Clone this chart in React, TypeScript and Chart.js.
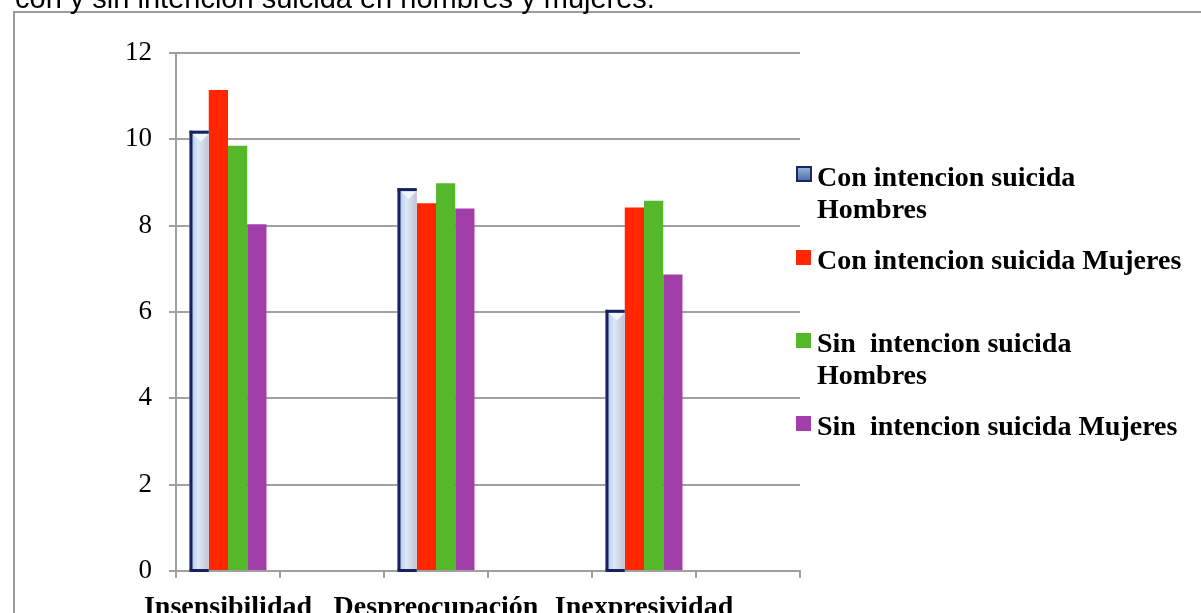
import React, { useEffect, useRef } from "react";
import { Chart, registerables } from "chart.js";

Chart.register(...registerables);

const captionText = "con y sin intencion suicida en hombres y mujeres.";
const categories = ["Insensibilidad", "", "Despreocupación", "", "Inexpresividad", ""];
const conHombres = [10.2, null, 8.87, null, 6.05, null];
const conMujeres = [11.14, null, 8.52, null, 8.42, null];
const sinHombres = [9.85, null, 8.98, null, 8.58, null];
const sinMujeres = [8.03, null, 8.4, null, 6.87, null];
const seriesNames: string[][] = [
  ["Con intencion suicida", "Hombres"],
  ["Con intencion suicida Mujeres"],
  ["Sin  intencion suicida", "Hombres"],
  ["Sin  intencion suicida Mujeres"],
];
const seriesColors = ["#c5d9f1", "#ff2600", "#55b72a", "#a23ea9"];
const yMin = 0;
const yMax = 12;
const yStep = 2;

const gridColor = "#a0a0a0";

const decorPlugin = {
  id: "decor",
  beforeDraw(chart: any) {
    const ctx = chart.ctx;
    ctx.save();
    ctx.fillStyle = "#ffffff";
    ctx.fillRect(0, 0, chart.width, chart.height);
    ctx.fillStyle = "#9c9c9c";
    ctx.fillRect(13, 11, chart.width - 13, 2);
    ctx.fillRect(13, 11, 2, chart.height - 11);
    ctx.fillStyle = "#000";
    ctx.font = "29px 'Liberation Sans', Arial, sans-serif";
    ctx.textBaseline = "alphabetic";
    ctx.textAlign = "left";
    ctx.fillText(captionText, 15, 8);
    ctx.restore();
  },
  afterDatasetDraw(chart: any, args: any) {
    if (args.index !== 0) return;
    const ctx = chart.ctx;
    const data = chart.data.datasets[0].data;
    ctx.save();
    args.meta.data.forEach((el: any, i: number) => {
      if (data[i] == null) return;
      const { x, y, base, width } = el.getProps(["x", "y", "base", "width"], true);
      if (!isFinite(y)) return;
      const l = x - width / 2;
      const r = x + width / 2;
      const g = ctx.createLinearGradient(l, 0, r, 0);
      g.addColorStop(0, "#a4c3ec");
      g.addColorStop(0.45, "#dbe8f8");
      g.addColorStop(1, "#c2c7d0");
      ctx.fillStyle = g;
      ctx.fillRect(l, y, r - l, base - y);
      ctx.fillStyle = "rgba(242,247,253,0.95)";
      ctx.beginPath();
      ctx.moveTo(l + 3, y + 3);
      ctx.lineTo(r, y + 3);
      ctx.lineTo((l + 3 + r) / 2, y + 11);
      ctx.closePath();
      ctx.fill();
      ctx.fillStyle = "#16215f";
      ctx.fillRect(l, y, 3, base - y);
      ctx.fillRect(l, y, r - l, 3);
      ctx.fillRect(l, base - 1, r - l, 3);
    });
    ctx.restore();
  },
  afterDraw(chart: any) {
    const ctx = chart.ctx;
    ctx.save();
    ctx.font = "bold 28px 'Liberation Serif', serif";
    ctx.textBaseline = "alphabetic";
    ctx.textAlign = "left";
    const boxX = 796;
    const textX = 817;
    const firstBaseline = 186;
    const itemStep = 83;
    const lineStep = 32;
    chart.data.datasets.forEach((ds: any, i: number) => {
      const bl = firstBaseline + i * itemStep;
      const bt = bl - 20;
      if (i === 0) {
        const g = ctx.createLinearGradient(0, bt, 0, bt + 16);
        g.addColorStop(0, "#9dbbe3");
        g.addColorStop(1, "#46679e");
        ctx.fillStyle = g;
        ctx.fillRect(boxX, bt, 16, 16);
        ctx.strokeStyle = "#1a2660";
        ctx.lineWidth = 2;
        ctx.strokeRect(boxX + 1, bt + 1, 14, 14);
      } else {
        ctx.fillStyle = ds.backgroundColor;
        ctx.fillRect(boxX, bt + 1, 15, 15);
      }
      ctx.fillStyle = "#000";
      const lines: string[] = ds.label;
      lines.forEach((ln, j) => ctx.fillText(ln, textX, bl + j * lineStep));
    });
    ctx.restore();
  },
};

export default function App() {
  const ref = useRef<HTMLCanvasElement>(null);
  useEffect(() => {
    const seriesData = [conHombres, conMujeres, sinHombres, sinMujeres];
    const chart = new Chart(ref.current as HTMLCanvasElement, {
      type: "bar",
      data: {
        labels: categories,
        datasets: seriesData.map((d, i) => ({
          label: seriesNames[i] as any,
          data: d as any,
          backgroundColor: seriesColors[i],
          borderWidth: 0,
          categoryPercentage: 0.74,
          barPercentage: 1,
        })),
      },
      options: {
        responsive: false,
        animation: false,
        devicePixelRatio: 1,
        layout: { padding: { top: 53, right: 401, bottom: 0, left: 0 } },
        plugins: {
          legend: { display: false },
          tooltip: { enabled: false },
          title: { display: false },
        },
        scales: {
          x: {
            offset: true,
            grid: {
              drawOnChartArea: false,
              drawTicks: true,
              tickLength: 7,
              color: gridColor,
              lineWidth: 2,
              offset: true,
            },
            border: { display: true, color: gridColor, width: 2 },
            ticks: {
              autoSkip: false,
              maxRotation: 0,
              minRotation: 0,
              padding: 13,
              color: "#000",
              font: { family: "'Liberation Serif', serif", size: 28, weight: "bold" },
            },
            afterFit: (s: any) => {
              s.height = 42;
            },
          },
          y: {
            min: yMin,
            max: yMax,
            ticks: {
              stepSize: yStep,
              padding: 17,
              color: "#000",
              font: { family: "'Liberation Serif', serif", size: 27 },
            },
            grid: { color: gridColor, lineWidth: 2, tickLength: 7, drawTicks: true },
            border: { display: true, color: gridColor, width: 2 },
            afterFit: (s: any) => {
              s.width = 176;
            },
          },
        },
      } as any,
      plugins: [decorPlugin],
    });
    return () => chart.destroy();
  }, []);
  return (
    <div style={{ position: "fixed", left: 0, top: 0, width: 1201, height: 613 }}>
      <canvas ref={ref} width={1201} height={613} style={{ display: "block" }} />
    </div>
  );
}
